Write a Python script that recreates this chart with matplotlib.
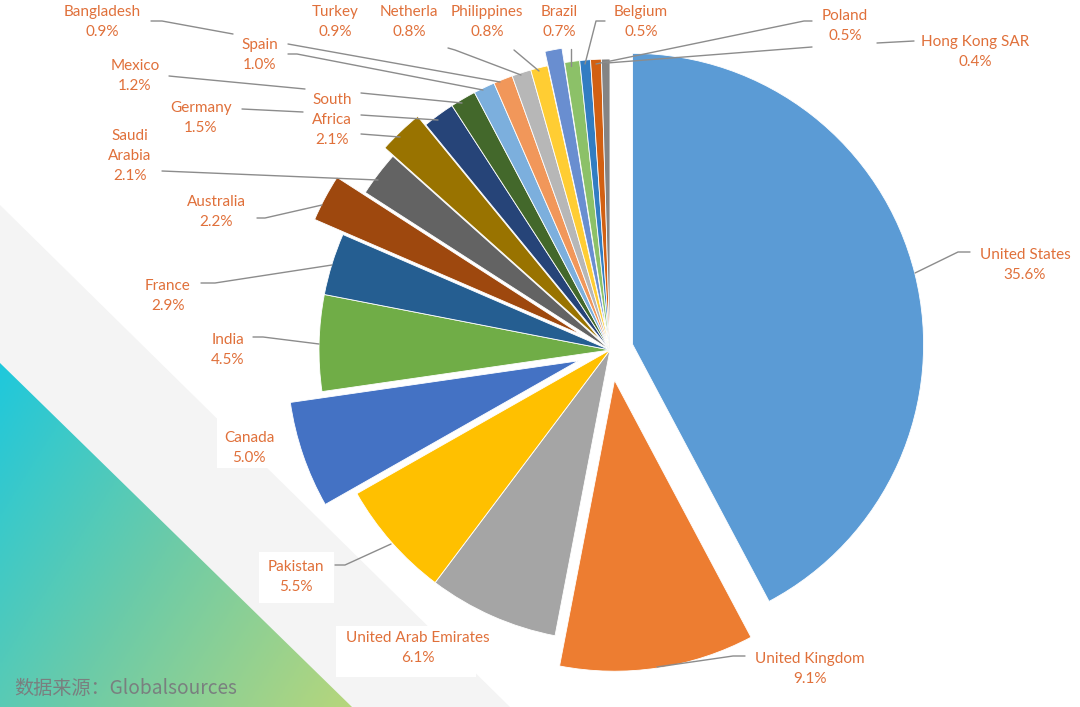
import numpy as np
import matplotlib
matplotlib.use("Agg")
import matplotlib.pyplot as plt
from matplotlib.colors import LinearSegmentedColormap
from matplotlib.patches import Polygon, Rectangle

W, H = 1080, 707
RADIUS = 291

countries = ["United States", "United Kingdom", "United Arab Emirates", "Pakistan", "Canada",
             "India", "France", "Australia", "Saudi\nArabia", "South\nAfrica", "Germany",
             "Mexico", "Spain", "Bangladesh", "Turkey", "Netherla", "Philippines", "Brazil",
             "Belgium", "Poland", "Hong Kong SAR"]
shares = [35.6, 9.1, 6.1, 5.5, 5.0, 4.5, 2.9, 2.2, 2.1, 2.1, 1.5,
          1.2, 1.0, 0.9, 0.9, 0.8, 0.8, 0.7, 0.5, 0.5, 0.4]
explode = [0.08, 0.105, 0, 0, 0.115, 0, 0, 0.11, 0, 0.04, 0,
           0, 0, 0, 0, 0, 0.05, 0, 0, 0, 0]
colors = ["#5B9BD5", "#ED7D31", "#A5A5A5", "#FFC000", "#4472C4", "#70AD47", "#255E91",
          "#9E480E", "#636363", "#997300", "#264478", "#43682B", "#7CAFDD", "#F1975A",
          "#B7B7B7", "#FFCD33", "#698ED0", "#8CC168", "#327DC2", "#D26012", "#848484"]

# label centre in image pixels (x, y of the middle of the text block)
label_pos = [(1025, 265), (810, 669), (418, 648), (296, 577), (249, 448),
             (228, 350), (168, 296), (216, 212), (130, 156), (332, 120), (201, 118),
             (135, 76), (260, 55), (102, 22), (335, 22), (409, 22), (487, 22), (559, 22),
             (641, 22), (845, 26), (975, 52)]

# leader lines in image pixels, y down
leaders = [
    [(970, 252), (958, 252), (915, 273)],
    [(745, 656), (733, 656), (657, 667)],
    [(335, 565), (345, 565), (391, 544)],
    [(253, 337), (263, 337), (319, 344)],
    [(201, 283), (215, 283), (332, 265)],
    [(257, 218), (265, 218), (322, 205)],
    [(162, 171), (378, 180)],
    [(361, 134), (400, 137)],
    [(242, 109), (303, 112)],
    [(361, 115), (438, 120)],
    [(169, 76), (179, 77), (305, 89)],
    [(361, 93), (462, 103)],
    [(288, 54), (297, 54), (483, 90)],
    [(151, 21), (162, 21), (233, 34)],
    [(288, 44), (500, 82)],
    [(448, 48), (455, 50), (521, 75)],
    [(514, 50), (539, 71)],
    [(571, 49), (571, 66)],
    [(605, 21), (596, 21), (585, 64)],
    [(812, 21), (804, 21), (596, 64)],
    [(914, 41), (877, 43)],
    [(812, 47), (607, 63)],
]

plt.rcParams['font.family'] = ['Lato', 'DejaVu Sans']

def flip(pts):
    return [(x, H - y) for x, y in pts]

fig = plt.figure(figsize=(W / 100, H / 100), dpi=100)
ax = fig.add_axes([0, 0, 1, 1])

# background band and gradient triangle
ax.add_patch(Polygon(flip([(0, 205), (510, 707), (0, 707)]), color="#F4F4F4", lw=0, zorder=0))
cmap = LinearSegmentedColormap.from_list("bg", ["#1FC8DC", "#6CCBA8", "#B6D67C"])
xx, yy = np.meshgrid(np.linspace(0, 1, 200), np.linspace(0, 1, 200))
im = ax.imshow(0.62 * xx + 0.38 * yy, extent=(0, 352, 0, 344), origin="upper", cmap=cmap,
               vmin=0, vmax=1, zorder=1, aspect="auto")
tri = Polygon(flip([(0, 363), (352, 707), (0, 707)]), fc="none", lw=0)
ax.add_patch(tri)
im.set_clip_path(tri)

# white boxes behind the labels that sit on the band
for x0, y0, x1, y1 in [(217, 418, 292, 468), (259, 552, 334, 603), (336, 626, 476, 677)]:
    ax.add_patch(Rectangle((x0, H - y1), x1 - x0, y1 - y0, fc="white", lw=0, zorder=2))

# pie explode offsets are in data units, here pixels
ax.pie(shares, colors=colors, explode=[e * RADIUS for e in explode], startangle=90,
       counterclock=False, center=(610, H - 350), radius=RADIUS, frame=True,
       wedgeprops={"edgecolor": "white", "linewidth": 0.6, "zorder": 3})

for pts in leaders:
    xs, ys = zip(*flip(pts))
    ax.plot(xs, ys, color="#8C8C8C", lw=1.0, zorder=4, solid_capstyle="round")

for name, val, (x, y) in zip(countries, shares, label_pos):
    ax.text(x, H - y, "%s\n%.1f%%" % (name, val), ha="center", va="center", fontsize=11,
            color="#E0703A", linespacing=1.55, zorder=5)

ax.text(14, H - 689, "数据来源：Globalsources", fontsize=13.8, color="#7A7F7F", va="center",
        family=['Noto Sans CJK SC', 'DejaVu Sans'], zorder=5)

ax.set_xlim(0, W)
ax.set_ylim(0, H)
ax.axis("off")

plt.savefig("out.png", dpi=100)
